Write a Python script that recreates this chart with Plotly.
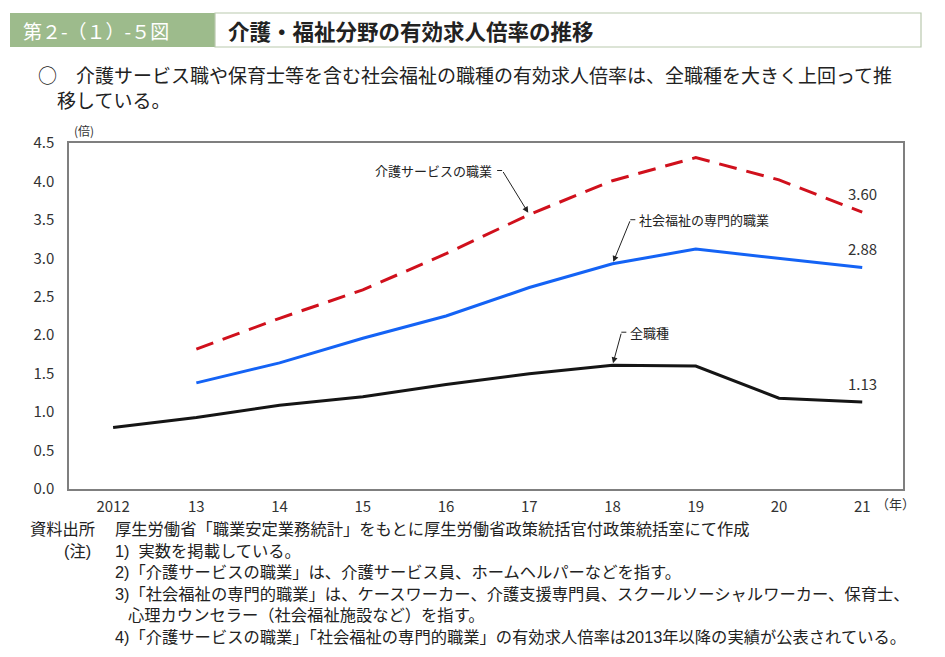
import plotly.graph_objects as go

years = [2012, 2013, 2014, 2015, 2016, 2017, 2018, 2019, 2020, 2021]
tick_labels = ["2012", "13", "14", "15", "16", "17", "18", "19", "20", "21"]
kaigo_years = [2013, 2014, 2015, 2016, 2017, 2018, 2019, 2020, 2021]
kaigo = [1.82, 2.22, 2.59, 3.06, 3.57, 4.01, 4.31, 4.02, 3.60]
fukushi = [1.38, 1.64, 1.96, 2.25, 2.62, 2.93, 3.12, 3.00, 2.88]
zen = [0.80, 0.93, 1.09, 1.20, 1.36, 1.50, 1.61, 1.60, 1.18, 1.13]
y_ticks = [0.0, 0.5, 1.0, 1.5, 2.0, 2.5, 3.0, 3.5, 4.0, 4.5]

FONT = "Noto Sans CJK JP"
NOTE_FONT = "Liberation Sans, Noto Sans CJK JP"
OFF = 8                      # default body margin of the html page
W, H = 945 - 2 * OFF, 657 - 2 * OFF
L, R, T, B = 69, 903, 143, 489   # plot area in page pixels


def px(x):
    return (x - L) / (R - L)


def py(y):
    return (B - y) / (B - T)


fig = go.Figure()
fig.add_trace(go.Scatter(x=kaigo_years, y=kaigo, mode="lines",
                         line=dict(color="#d0101c", width=3, dash="18px,10px"),
                         hoverinfo="skip"))
fig.add_trace(go.Scatter(x=kaigo_years, y=fukushi, mode="lines",
                         line=dict(color="#1463f5", width=3), hoverinfo="skip"))
fig.add_trace(go.Scatter(x=years, y=zen, mode="lines",
                         line=dict(color="#151515", width=3), hoverinfo="skip"))

ann = []
shapes = []

# header
shapes.append(dict(type="rect", xref="paper", yref="paper",
                   x0=px(10), x1=px(215), y0=py(47), y1=py(13),
                   fillcolor="#9dbb8c", line=dict(width=0), layer="below"))
shapes.append(dict(type="rect", xref="paper", yref="paper",
                   x0=px(215), x1=px(921), y0=py(47), y1=py(13),
                   fillcolor="white", line=dict(color="#b9c9ae", width=1.2), layer="below"))
ann.append(dict(xref="paper", yref="paper", x=px(21), y=py(31), xanchor="left", yanchor="middle",
                text="第２-（１）-５図", showarrow=False,
                font=dict(family=FONT, size=19, color="white")))
ann.append(dict(xref="paper", yref="paper", x=px(226), y=py(31), xanchor="left", yanchor="middle",
                text="<b>介護・福祉分野の有効求人倍率の推移</b>", showarrow=False,
                font=dict(family=FONT, size=21.5, color="#222")))
ann.append(dict(xref="paper", yref="paper", x=px(36), y=py(87), xanchor="left", yanchor="middle",
                align="left",
                text="○　介護サービス職や保育士等を含む社会福祉の職種の有効求人倍率は、全職種を大きく上回って推"
                     "<br>　移している。",
                showarrow=False, font=dict(family=FONT, size=19, color="#222")))

# axis unit labels
ann.append(dict(xref="paper", yref="paper", x=px(72), y=py(130), xanchor="left", yanchor="middle",
                text="(倍)", showarrow=False, font=dict(family=FONT, size=12, color="#333")))
ann.append(dict(xref="paper", yref="paper", x=px(874), y=py(503), xanchor="left", yanchor="middle",
                text="（年）", showarrow=False, font=dict(family=FONT, size=13, color="#333")))

# end labels
for v in [kaigo[-1], fukushi[-1], zen[-1]]:
    ann.append(dict(x=years[-1], y=v, text=f"{v:.2f}", showarrow=False, yshift=19,
                    font=dict(family=FONT, size=15, color="#333")))

# series labels with leader arrows
labels = [
    ("介護サービスの職業", kaigo_years[4], kaigo[4], -27, -44, "right"),
    ("社会福祉の専門的職業", kaigo_years[5], fukushi[5], 18, -44, "left"),
    ("全職種", years[6], zen[6], 9, -33, "left"),
]
for text, xv, yv, ax, ay, side in labels:
    ann.append(dict(x=xv, y=yv, ax=ax, ay=ay, text="", showarrow=True, arrowhead=2,
                    arrowsize=1.2, arrowwidth=1, arrowcolor="#222", standoff=2))
    hx0 = 113 + (xv - 2012) * (862 - 113) / 9 + ax
    hy = B - yv * (B - T) / 4.5 + ay
    if side == "right":
        shapes.append(dict(type="line", xref="paper", yref="paper",
                           x0=px(hx0 - 5), x1=px(hx0), y0=py(hy), y1=py(hy),
                           line=dict(color="#222", width=1)))
        ann.append(dict(xref="paper", yref="paper", x=px(hx0 - 8), y=py(hy), xanchor="right",
                        yanchor="middle", text=text, showarrow=False,
                        font=dict(family=FONT, size=13, color="#222")))
    else:
        shapes.append(dict(type="line", xref="paper", yref="paper",
                           x0=px(hx0), x1=px(hx0 + 5), y0=py(hy), y1=py(hy),
                           line=dict(color="#222", width=1)))
        ann.append(dict(xref="paper", yref="paper", x=px(hx0 + 7), y=py(hy), xanchor="left",
                        yanchor="middle", text=text, showarrow=False,
                        font=dict(family=FONT, size=13, color="#222")))

# footnotes
notes = [
    (28, 529, "資料出所"),
    (113, 529, "厚生労働省「職業安定業務統計」をもとに厚生労働省政策統括官付政策統括室にて作成"),
    (62, 551, "(注)"),
    (113, 551, "1)  実数を掲載している。"),
    (113, 572, "2)「介護サービスの職業」は、介護サービス員、ホームヘルパーなどを指す。"),
    (113, 594, "3)「社会福祉の専門的職業」は、ケースワーカー、介護支援専門員、スクールソーシャルワーカー、保育士、"),
    (126, 615, "心理カウンセラー（社会福祉施設など）を指す。"),
    (113, 637, "4)「介護サービスの職業」「社会福祉の専門的職業」の有効求人倍率は2013年以降の実績が公表されている。"),
]
for x0, y0, t in notes:
    ann.append(dict(xref="paper", yref="paper", x=px(x0), y=py(y0), xanchor="left", yanchor="middle",
                    text=t, showarrow=False, font=dict(family=NOTE_FONT, size=16.3, color="#222")))

fig.update_layout(
    width=W, height=H,
    margin=dict(l=L - OFF, r=W - (R - OFF), t=T - OFF, b=H - (B - OFF), pad=0),
    paper_bgcolor="white", plot_bgcolor="white",
    showlegend=False,
    font=dict(family=FONT, color="#333"),
    annotations=ann, shapes=shapes,
    xaxis=dict(range=[2011.47, 2021.49], tickvals=years, ticktext=tick_labels,
               showgrid=False, zeroline=False, showline=True, mirror=True,
               linecolor="#7f7f7f", linewidth=1.5, ticks="",
               tickfont=dict(family=FONT, size=15, color="#333"), ticklabelstandoff=3),
    yaxis=dict(range=[0, 4.5], tickvals=y_ticks, tickformat=".1f",
               showgrid=False, zeroline=False, showline=True, mirror=True,
               linecolor="#7f7f7f", linewidth=1.5, ticks="",
               tickfont=dict(family=FONT, size=15, color="#333"), ticklabelstandoff=10),
)

fig.write_html("out.html")
